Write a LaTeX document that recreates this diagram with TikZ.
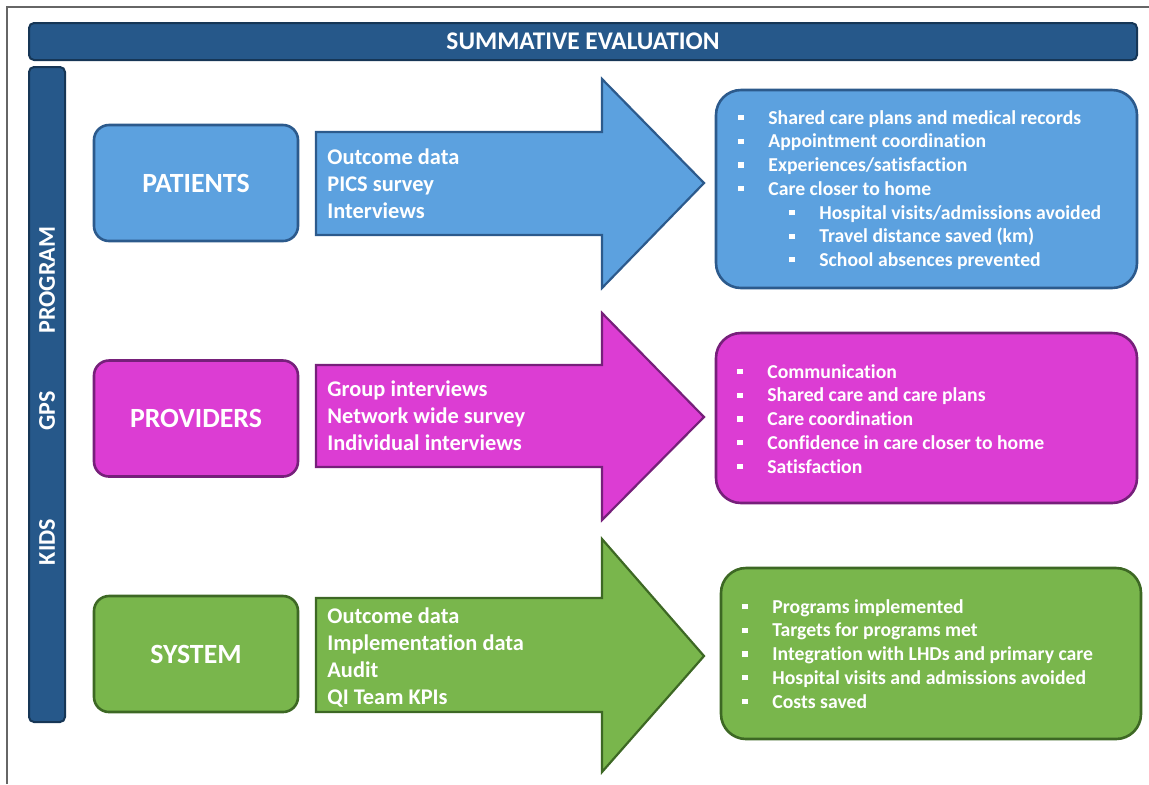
\documentclass[tikz,border=0pt]{standalone}
\usepackage{fontspec}
\setmainfont{Carlito}[Ligatures=NoCommon]
\usetikzlibrary{positioning}

\definecolor{navyblue}{HTML}{26588A}
\definecolor{navyedge}{HTML}{163656}
\definecolor{patblue}{HTML}{5CA1DF}
\definecolor{patedge}{HTML}{2C5A8C}
\definecolor{provpink}{HTML}{DC3DD3}
\definecolor{provedge}{HTML}{76207A}
\definecolor{sysgreen}{HTML}{79B64C}
\definecolor{sysedge}{HTML}{3D6824}

\newcommand{\sqbul}{\makebox[15pt][l]{\rule[2pt]{2.6pt}{2.6pt}}}
\newcommand{\subbul}{\hspace*{25.5pt}\sqbul}

\tikzset{
    bar/.style = {fill=navyblue, draw=navyedge, line width=1pt, rounded corners=2.5pt, text=white},
    group/.style = {rounded corners=7.5pt, line width=1.3pt, minimum width=102pt, minimum height=58pt,
        text=white, font=\fontsize{13.9}{16}\selectfont\bfseries},
    outcome/.style = {rounded corners=12.5pt, line width=1.3pt, minimum width=210.5pt},
    flow/.style = {line width=1.1pt, line join=miter},
    method/.style = {anchor=north west, inner sep=0pt, align=left, text=white,
        font=\fontsize{11.2}{13.5}\selectfont\bfseries},
    items/.style = {anchor=north west, inner sep=0pt, align=left, text=white,
        font=\fontsize{9.85}{11.85}\selectfont\bfseries},
    sidelabel/.style = {rotate=90, text=white, font=\fontsize{12}{14}\selectfont\bfseries}
}

\begin{document}
\begin{tikzpicture}[x=0.5pt, y=-0.5pt]
    \useasboundingbox (0,0) rectangle (1149,784);
    \draw[black!60, line width=1pt] (7,784) -- (7,7) -- (1149,7);

    % banners
    \node[bar, minimum width=554pt, minimum height=18.5pt, font=\fontsize{12.7}{14}\selectfont\bfseries] (title) at (583,41.5) {SUMMATIVE EVALUATION};
    \node[bar, minimum width=18pt, minimum height=327.5pt] (side) at (47,394.5) {};
    \node[sidelabel] (program) at (47,280) {PROGRAM};
    \node[sidelabel] (gps) at (47,411) {GPS};
    \node[sidelabel] (kids) at (47,542) {KIDS};

    % groups
    \node[group, fill=patblue, draw=patedge] (patients) at (196,183) {PATIENTS};
    \node[group, fill=provpink, draw=provedge] (providers) at (196,418.5) {PROVIDERS};
    \node[group, fill=sysgreen, draw=sysedge] (system) at (196,654) {SYSTEM};

    % arrows
    \draw[flow, fill=patblue, draw=patedge] (316,132) -- (602,132) -- (602,79) -- (704,183) -- (602,288) -- (602,235) -- (316,235) -- cycle;
    \draw[flow, fill=provpink, draw=provedge] (316,365) -- (602,365) -- (602,313) -- (704,417) -- (602,520) -- (602,467) -- (316,467) -- cycle;
    \draw[flow, fill=sysgreen, draw=sysedge] (316,598) -- (602,598) -- (602,539) -- (704,656) -- (602,772) -- (602,712) -- (316,712) -- cycle;

    \node[method] (patmeth) at (327,148) {Outcome data\\PICS survey\\Interviews};
    \node[method] (provmeth) at (327,380) {Group interviews\\Network wide survey\\Individual interviews};
    \node[method] (sysmeth) at (327,607) {Outcome data\\Implementation data\\Audit\\QI Team KPIs};

    % outcomes
    \node[outcome, fill=patblue, draw=patedge, minimum height=99pt] (patout) at (926.5,189) {};
    \node[outcome, fill=provpink, draw=provedge, minimum height=85pt] (provout) at (926.5,418) {};
    \node[outcome, fill=sysgreen, draw=sysedge, minimum height=85.5pt, minimum width=210pt] (sysout) at (931,653.5) {};

    \node[items] (patlist) at (738,110) {\sqbul Shared care plans and medical records\\
        \sqbul Appointment coordination\\
        \sqbul Experiences/satisfaction\\
        \sqbul Care closer to home\\
        \subbul Hospital visits/admissions avoided\\
        \subbul Travel distance saved (km)\\
        \subbul School absences prevented};
    \node[items] (provlist) at (737,364) {\sqbul Communication\\
        \sqbul Shared care and care plans\\
        \sqbul Care coordination\\
        \sqbul Confidence in care closer to home\\
        \sqbul Satisfaction};
    \node[items] (syslist) at (742,599) {\sqbul Programs implemented\\
        \sqbul Targets for programs met\\
        \sqbul Integration with LHDs and primary care\\
        \sqbul Hospital visits and admissions avoided\\
        \sqbul Costs saved};
\end{tikzpicture}
\end{document}
